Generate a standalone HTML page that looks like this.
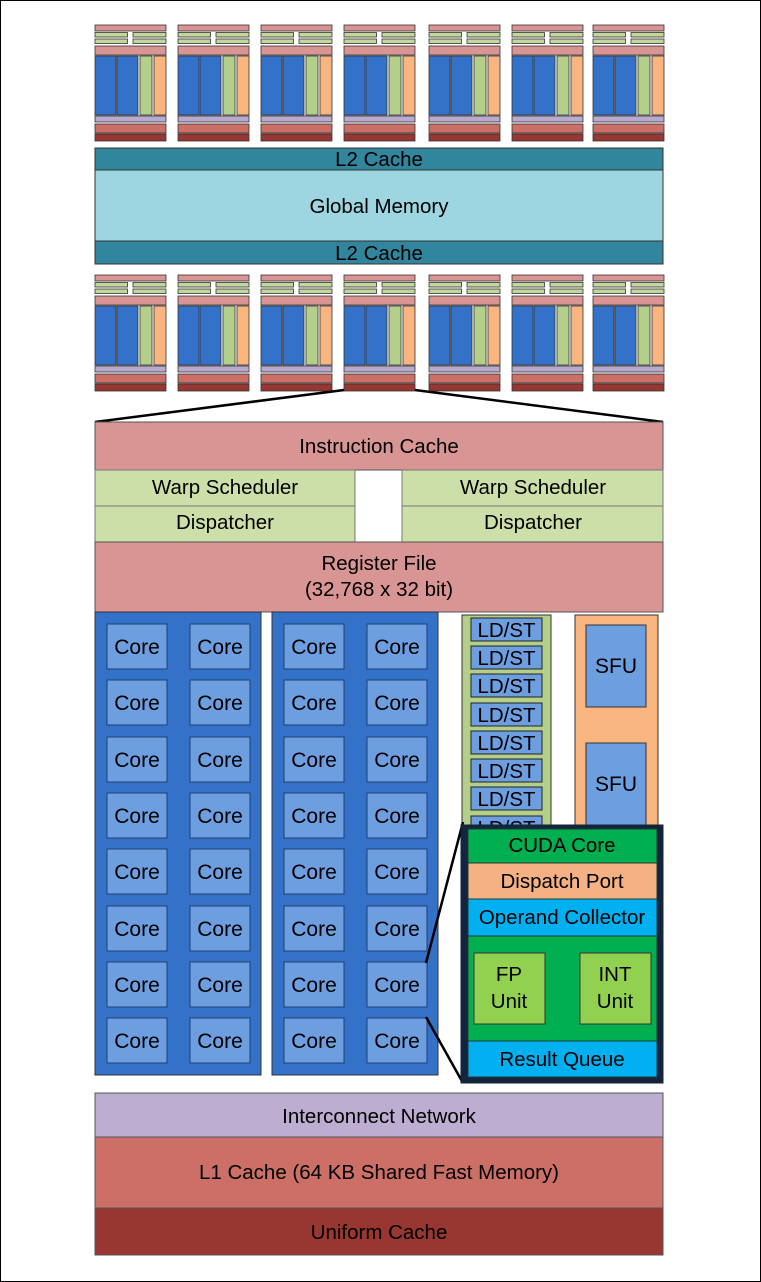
<!DOCTYPE html>
<html><head><meta charset="utf-8"><style>
html,body{margin:0;padding:0;background:#fff}
svg{display:block}
text{font-family:"Liberation Sans",Arial,sans-serif;fill:#000;text-anchor:middle}
</style></head><body>
<svg width="761" height="1282" viewBox="0 0 761 1282" xmlns="http://www.w3.org/2000/svg">
<defs>
<g id="sm" stroke="#333" stroke-width="0.8">
<rect x="0" y="0" width="71" height="6" fill="#d99594"/>
<rect x="0" y="7.5" width="32.5" height="4.5" fill="#c3d69b"/>
<rect x="38" y="7.5" width="33" height="4.5" fill="#c3d69b"/>
<rect x="0" y="14" width="32.5" height="4.5" fill="#c3d69b"/>
<rect x="38" y="14" width="33" height="4.5" fill="#c3d69b"/>
<rect x="0" y="21" width="71" height="9" fill="#d99594"/>
<rect x="0" y="31" width="21" height="59" fill="#3472c9"/>
<rect x="22" y="31" width="21" height="59" fill="#3472c9"/>
<rect x="45" y="31" width="12" height="59" fill="#b3cf8a"/>
<rect x="59" y="31" width="12" height="59" fill="#f9b57f"/>
<rect x="0" y="91" width="71" height="6" fill="#b9a9cf"/>
<rect x="0" y="99" width="71" height="9" fill="#cc6f66"/>
<rect x="0" y="109" width="71" height="7" fill="#983732"/>
</g>
<g id="core"><rect x="0" y="0" width="60" height="45" fill="#6d9ee0" stroke="#1f3f70" stroke-width="1"/><text x="30" y="30" font-size="21">Core</text></g>
<g id="ld"><rect x="0" y="0" width="71" height="23" fill="#6d9ee0" stroke="#222" stroke-width="1"/><text x="35.5" y="19" font-size="20.5">LD/ST</text></g>
</defs>
<rect x="0.5" y="0.5" width="760" height="1281" fill="none" stroke="#000" stroke-width="1"/>
<use href="#sm" x="95" y="25"/><use href="#sm" x="178" y="25"/><use href="#sm" x="261" y="25"/><use href="#sm" x="344" y="25"/><use href="#sm" x="429" y="25"/><use href="#sm" x="512" y="25"/><use href="#sm" x="593" y="25"/>
<rect x="95" y="148" width="568" height="22" fill="#31859c" stroke="#333"/>
<text x="379" y="166" font-size="20.5">L2 Cache</text>
<rect x="95" y="170" width="568" height="71" fill="#9dd5e0" stroke="#333"/>
<text x="379" y="213" font-size="20.5">Global Memory</text>
<rect x="95" y="241" width="568" height="23" fill="#31859c" stroke="#333"/>
<text x="379" y="260" font-size="20.5">L2 Cache</text>
<use href="#sm" x="95" y="275"/><use href="#sm" x="178" y="275"/><use href="#sm" x="261" y="275"/><use href="#sm" x="344" y="275"/><use href="#sm" x="429" y="275"/><use href="#sm" x="512" y="275"/><use href="#sm" x="593" y="275"/>
<line x1="344" y1="390" x2="95" y2="422" stroke="#000" stroke-width="2.5"/>
<line x1="415" y1="390" x2="663" y2="422" stroke="#000" stroke-width="2.5"/>
<rect x="95" y="422" width="568" height="48" fill="#d99594" stroke="#555"/>
<text x="379" y="453" font-size="20.5">Instruction Cache</text>
<rect x="95" y="470" width="260" height="36" fill="#cddfa9" stroke="#777"/>
<text x="225" y="494" font-size="20.5">Warp Scheduler</text>
<rect x="95" y="506" width="260" height="36" fill="#cddfa9" stroke="#777"/>
<text x="225" y="529" font-size="20.5">Dispatcher</text>
<rect x="402" y="470" width="261" height="36" fill="#cddfa9" stroke="#777"/>
<text x="533" y="494" font-size="20.5">Warp Scheduler</text>
<rect x="402" y="506" width="261" height="36" fill="#cddfa9" stroke="#777"/>
<text x="533" y="529" font-size="20.5">Dispatcher</text>
<rect x="95" y="542" width="568" height="70" fill="#d99594" stroke="#555"/>
<text x="379" y="570" font-size="20.5">Register File</text>
<text x="379" y="596" font-size="20.5">(32,768 x 32 bit)</text>
<rect x="95" y="612" width="166" height="463" fill="#3472c9" stroke="#333"/>
<rect x="272" y="612" width="166" height="463" fill="#3472c9" stroke="#333"/>
<g>
<use href="#core" x="107" y="624"/><use href="#core" x="190" y="624"/><use href="#core" x="284" y="624"/><use href="#core" x="367" y="624"/>
<use href="#core" x="107" y="680"/><use href="#core" x="190" y="680"/><use href="#core" x="284" y="680"/><use href="#core" x="367" y="680"/>
<use href="#core" x="107" y="737"/><use href="#core" x="190" y="737"/><use href="#core" x="284" y="737"/><use href="#core" x="367" y="737"/>
<use href="#core" x="107" y="793"/><use href="#core" x="190" y="793"/><use href="#core" x="284" y="793"/><use href="#core" x="367" y="793"/>
<use href="#core" x="107" y="849"/><use href="#core" x="190" y="849"/><use href="#core" x="284" y="849"/><use href="#core" x="367" y="849"/>
<use href="#core" x="107" y="906"/><use href="#core" x="190" y="906"/><use href="#core" x="284" y="906"/><use href="#core" x="367" y="906"/>
<use href="#core" x="107" y="962"/><use href="#core" x="190" y="962"/><use href="#core" x="284" y="962"/><use href="#core" x="367" y="962"/>
<use href="#core" x="107" y="1018"/><use href="#core" x="190" y="1018"/><use href="#core" x="284" y="1018"/><use href="#core" x="367" y="1018"/>
</g>
<rect x="462" y="615" width="89" height="230" fill="#b3cf8a" stroke="#333"/>
<use href="#ld" x="471" y="618"/><use href="#ld" x="471" y="646"/><use href="#ld" x="471" y="674"/><use href="#ld" x="471" y="703"/><use href="#ld" x="471" y="731"/><use href="#ld" x="471" y="759"/><use href="#ld" x="471" y="787"/><use href="#ld" x="471" y="816"/>
<rect x="575" y="615" width="83" height="230" fill="#f9b57f" stroke="#333"/>
<rect x="586" y="625" width="60" height="82" fill="#6d9ee0" stroke="#333"/>
<text x="616" y="673" font-size="21">SFU</text>
<rect x="586" y="743" width="60" height="82" fill="#6d9ee0" stroke="#333"/>
<text x="616" y="791" font-size="21">SFU</text>
<line x1="426" y1="963" x2="463" y2="822" stroke="#000" stroke-width="2.5"/>
<line x1="426" y1="1017" x2="463" y2="1083" stroke="#000" stroke-width="2.5"/>
<rect x="461" y="825" width="202" height="258" fill="#14243d" stroke="#14243d"/>
<rect x="468" y="829" width="189" height="34" fill="#00b050" stroke="#1f3a30"/>
<text x="562" y="852" font-size="20.5">CUDA Core</text>
<rect x="468" y="863" width="189" height="36" fill="#f4b183" stroke="#1f3a30"/>
<text x="562" y="888" font-size="20.5">Dispatch Port</text>
<rect x="468" y="899" width="189" height="37" fill="#00b0f0" stroke="#1f3a30"/>
<text x="562" y="924" font-size="20.5">Operand Collector</text>
<rect x="468" y="936" width="189" height="105" fill="#00b050" stroke="#1f3a30"/>
<rect x="474" y="953" width="71" height="71" fill="#92d050" stroke="#333"/>
<text x="509" y="981" font-size="20.5">FP</text><text x="509" y="1008" font-size="20.5">Unit</text>
<rect x="580" y="953" width="71" height="71" fill="#92d050" stroke="#333"/>
<text x="615" y="981" font-size="20.5">INT</text><text x="615" y="1008" font-size="20.5">Unit</text>
<rect x="468" y="1041" width="189" height="36" fill="#00b0f0" stroke="#1f3a30"/>
<text x="562" y="1066" font-size="20.5">Result Queue</text>
<rect x="95" y="1093" width="568" height="44" fill="#bcadd1" stroke="#555"/>
<text x="379" y="1123" font-size="20.5">Interconnect Network</text>
<rect x="95" y="1137" width="568" height="71" fill="#cc6f66" stroke="#555"/>
<text x="379" y="1179" font-size="20.5">L1 Cache (64 KB Shared Fast Memory)</text>
<rect x="95" y="1208" width="568" height="47" fill="#983732" stroke="#555"/>
<text x="379" y="1239" font-size="20.5">Uniform Cache</text>
</svg>
</body></html>
